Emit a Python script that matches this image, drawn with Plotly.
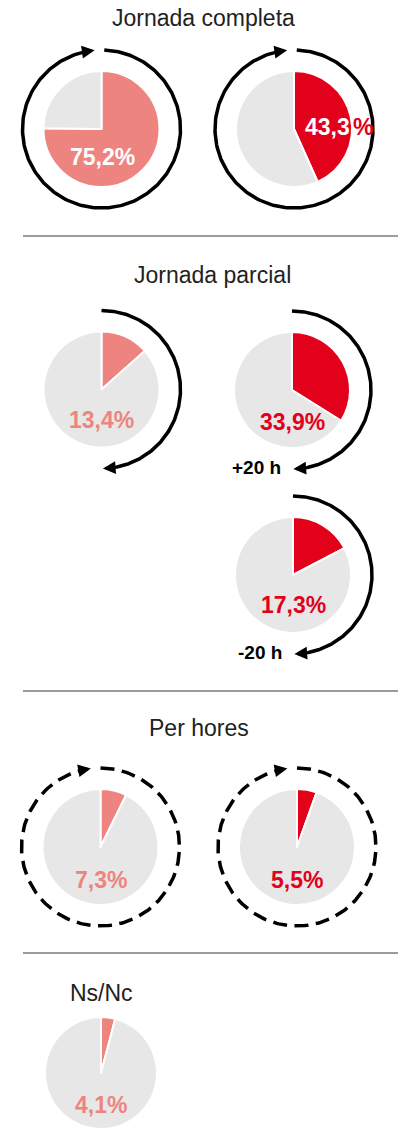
import numpy as np
import plotly.graph_objects as go

# ---------------- data ----------------
section_titles = ["Jornada completa", "Jornada parcial", "Per hores", "Ns/Nc"]
pie_values = [75.2, 43.3, 13.4, 33.9, 17.3, 7.3, 5.5, 4.1]
pie_series = ["A", "B", "A", "B", "B", "A", "B", "A"]
pie_notes = ["", "", "", "+20 h", "-20 h", "", "", ""]

# ---------------- styling / layout ----------------
W, H = 405, 1129
series_color = {"A": "#EE8480", "B": "#E2001A"}
REST = "#E7E7E7"
R_PIE = 58
R_RING = 79
LABEL_SIZE = 23

pie_centers = [(101.5, 129), (294, 129), (101.5, 389.5), (292, 390),
               (293, 575), (100.5, 847), (297, 847), (101, 1075)]
label_offsets = [(1, 28), (9, -2), (0, 30), (0, 32), (0, 30), (0, 33), (0, 33), (0, 30)]
label_inside = [True, True, False, False, False, False, False, False]
ring_kind = ["full", "full", "half", "half", "half", "dash", "dash", None]
title_pos = [(203, 18), (212.5, 275), (199, 728), (101, 993)]
separators_y = [236, 691, 953]

FONT = "Liberation Sans, Arial, Helvetica, sans-serif"

fig = go.Figure()


def fmt(v):
    return f"{v:.1f}".replace(".", ",") + "%"


def arc_pts(cx, cy, r, a0, a1, n=240):
    t = np.radians(np.linspace(a0, a1, n))
    return cx + r * np.cos(t), cy - r * np.sin(t)


# approximate Arial/Liberation bold advance widths (em) for digits and comma
BOLD_W = {",": 0.278, "%": 0.889}


def bold_width(s, size):
    return sum(BOLD_W.get(ch, 0.556) for ch in s) * size


annotations = []

# hidden pixel-space axes used for rings, arrows, texts, lines
fig.add_trace(go.Scatter(x=[0, W], y=[0, H], mode="markers",
                         marker=dict(opacity=0), hoverinfo="skip", showlegend=False))

for i, v in enumerate(pie_values):
    cx, cy = pie_centers[i]
    col = series_color[pie_series[i]]
    y0 = max(0.0, 1 - (cy + R_PIE) / H)
    y1 = 1 - (cy - R_PIE) / H
    fig.add_trace(go.Pie(
        values=[v, 100 - v], sort=False, direction="clockwise", rotation=0,
        marker=dict(colors=[col, REST], line=dict(color="white", width=2)),
        textinfo="none", hoverinfo="skip", showlegend=False,
        domain=dict(x=[(cx - R_PIE) / W, (cx + R_PIE) / W], y=[y0, y1]),
    ))
    dx, dy = label_offsets[i]
    txt = fmt(v)
    if label_inside[i] and dx > 5:
        # label running past the pie edge: the "%" outside the pie is in series colour
        num = txt[:-1]
        annotations.append(dict(
            x=cx + dx, y=cy + dy, xref="x", yref="y", showarrow=False, xanchor="left",
            text=f"<b>{num}</b>", font=dict(family=FONT, size=LABEL_SIZE, color="white")))
        annotations.append(dict(
            x=cx + dx + bold_width(num, LABEL_SIZE) + 3, y=cy + dy, xref="x", yref="y",
            showarrow=False, xanchor="left",
            text="<b>%</b>", font=dict(family=FONT, size=LABEL_SIZE, color=col)))
    else:
        annotations.append(dict(
            x=cx + dx, y=cy + dy, xref="x", yref="y", showarrow=False,
            text=f"<b>{txt}</b>",
            font=dict(family=FONT, size=LABEL_SIZE, color="white" if label_inside[i] else col),
        ))
    if pie_notes[i]:
        annotations.append(dict(
            x=cx - 9, y=cy + 77, xref="x", yref="y", showarrow=False,
            xanchor="right", text=f"<b>{pie_notes[i]}</b>",
            font=dict(family=FONT, size=19, color="black"),
        ))

    kind = ring_kind[i]
    if kind is None:
        continue
    if kind == "full":
        a0, tip, dash = 88, 95 - 360, "solid"
    elif kind == "dash":
        a0, tip, dash = 90, 97 - 360, "14px,7.5px"
    else:
        a0, tip, dash = 90, -89, "solid"
    xs, ys = arc_pts(cx, cy, R_RING, a0, tip + 3)
    fig.add_trace(go.Scatter(x=xs, y=ys, mode="lines",
                             line=dict(color="black", width=3.5, dash=dash),
                             hoverinfo="skip", showlegend=False))
    tx, ty = arc_pts(cx, cy, R_RING, tip, tip, 1)
    bx, by = arc_pts(cx, cy, R_RING, tip + 6, tip + 6, 1)
    annotations.append(dict(
        x=float(tx[0]), y=float(ty[0]), ax=float(bx[0]), ay=float(by[0]),
        xref="x", yref="y", axref="x", ayref="y", text="", showarrow=True,
        arrowhead=2, arrowsize=0.85, arrowwidth=3, arrowcolor="black",
    ))

for t, (tx, ty) in zip(section_titles, title_pos):
    annotations.append(dict(
        x=tx, y=ty, xref="x", yref="y", showarrow=False, text=t,
        font=dict(family=FONT, size=23, color="#222222"),
    ))

shapes = [dict(type="line", xref="x", yref="y", x0=23, x1=398, y0=sy, y1=sy,
               line=dict(color="#3a3a3a", width=1.2)) for sy in separators_y]

fig.update_layout(
    width=W, height=H, autosize=False,
    margin=dict(l=0, r=0, t=0, b=0),
    paper_bgcolor="white", plot_bgcolor="white",
    xaxis=dict(range=[0, W], visible=False, fixedrange=True, domain=[0, 1]),
    yaxis=dict(range=[H, 0], visible=False, fixedrange=True, domain=[0, 1]),
    annotations=annotations, shapes=shapes, showlegend=False,
)

fig.write_html("out.html", config={"displayModeBar": False},
               post_script="document.body.style.margin='0';")
